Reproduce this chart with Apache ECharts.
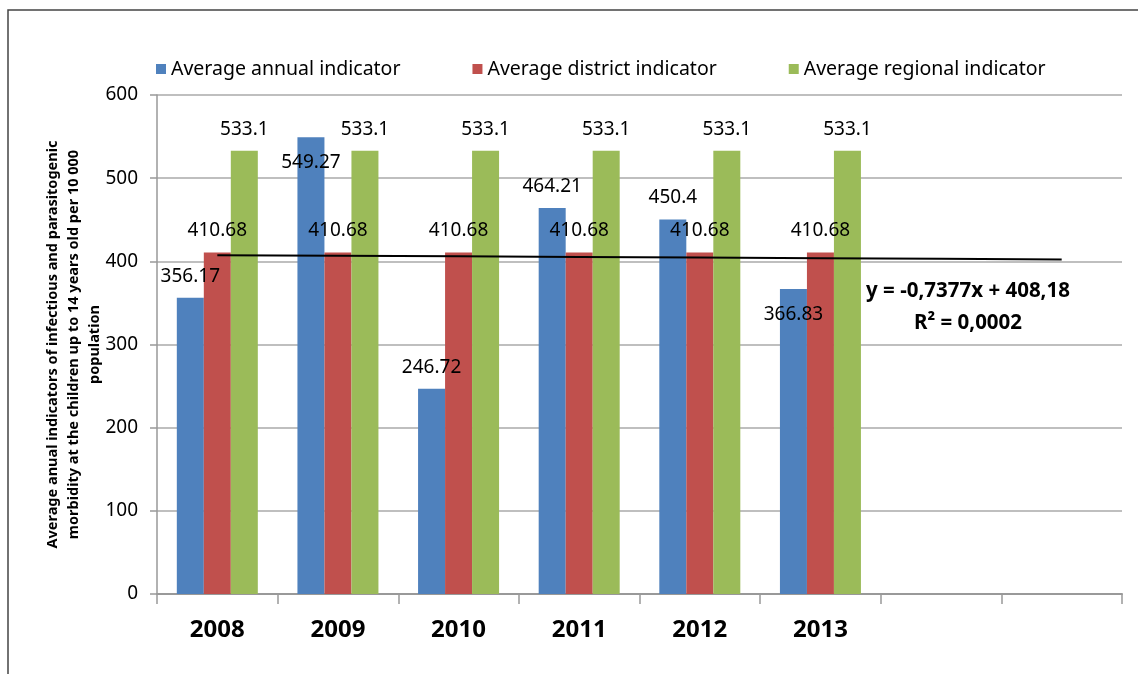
<!DOCTYPE html>
<html>
<head>
<meta charset="utf-8">
<script src="https://cdn.jsdelivr.net/npm/echarts@6/dist/echarts.min.js"></script>
<style>
  html, body { margin: 0; padding: 0; background: #fff; }
  #chart { width: 1138px; height: 674px; }
</style>
</head>
<body>
<div id="chart"></div>
<script>
const years = ["2008", "2009", "2010", "2011", "2012", "2013", "", ""];
const annual = [356.17, 549.27, 246.72, 464.21, 450.4, 366.83];
const district = [410.68, 410.68, 410.68, 410.68, 410.68, 410.68];
const regional = [533.1, 533.1, 533.1, 533.1, 533.1, 533.1];
// linear trend (y = -0,7377x + 408,18)
const trend = [407.44, 406.70, 405.97, 405.23, 404.49, 403.76, 403.02, 402.28];
const yTicks = { min: 0, max: 600, interval: 100 };

// where the annual labels sit (two of them are inside the bar top)
const annualLabelPos = ["top", "insideTop", "top", "top", "top", "insideTop"];

const font = "'Noto Sans', 'Open Sans', sans-serif";
const colors = ["#4F81BD", "#C0504D", "#9BBB59"];

const chart = echarts.init(document.getElementById("chart"));

const labelStyle = {
  show: true,
  position: "top",
  distance: 12,
  color: "#000",
  fontSize: 19,
  fontFamily: font,
};

chart.setOption({
  animation: false,
  textStyle: { fontFamily: font },
  grid: { left: 157, right: 16, top: 95, bottom: 80 },
  legend: {
    data: ["Average annual indicator", "Average district indicator", "Average regional indicator"],
    left: 151,
    top: 54,
    itemWidth: 10,
    itemHeight: 10,
    itemGap: 72,
    icon: "rect",
    textStyle: { fontSize: 19.5, color: "#000", fontFamily: font },
  },
  xAxis: {
    type: "category",
    data: years,
    axisLine: { lineStyle: { color: "#999", width: 2 } },
    axisTick: { show: true, length: 10, lineStyle: { color: "#999", width: 1.5 } },
    axisLabel: {
      color: "#000",
      fontSize: 24,
      fontWeight: "bold",
      fontFamily: font,
      margin: 24,
      interval: 0,
    },
  },
  yAxis: {
    type: "value",
    min: yTicks.min,
    max: yTicks.max,
    interval: yTicks.interval,
    name: "Average anual indicators of infectious and parasitogenic\nmorbidity at the children up to 14 years old per 10 000\npopulation",
    nameLocation: "middle",
    nameGap: 52,
    nameMoveOverlap: false,
    nameTextStyle: {
      fontSize: 14.5,
      fontWeight: "bold",
      color: "#000",
      lineHeight: 21,
      fontFamily: font,
    },
    axisLine: { show: true, lineStyle: { color: "#999", width: 1.5 } },
    axisTick: { show: true, length: 7, lineStyle: { color: "#999", width: 1.5 } },
    axisLabel: { color: "#000", fontSize: 19, margin: 19, fontFamily: font },
    splitLine: { lineStyle: { color: "#aaa", width: 1.5 } },
  },
  series: [
    {
      name: "Average annual indicator",
      type: "bar",
      barWidth: 27,
      barGap: "0%",
      itemStyle: { color: colors[0] },
      label: labelStyle,
      data: annual.map((v, i) =>
        annualLabelPos[i] === "insideTop"
          ? { value: v, label: { position: "insideTop", distance: 16 } }
          : v
      ),
    },
    {
      name: "Average district indicator",
      type: "bar",
      barWidth: 27,
      barGap: "0%",
      itemStyle: { color: colors[1] },
      label: labelStyle,
      data: district,
    },
    {
      name: "Average regional indicator",
      type: "bar",
      barWidth: 27,
      barGap: "0%",
      itemStyle: { color: colors[2] },
      label: labelStyle,
      data: regional,
    },
    {
      name: "trend",
      type: "line",
      data: trend,
      symbol: "none",
      z: 5,
      lineStyle: { color: "#000", width: 2 },
    },
  ],
  graphic: [
    {
      type: "rect",
      shape: { x: 8, y: 10, width: 1200, height: 720 },
      style: { fill: "none", stroke: "#444", lineWidth: 1.5 },
      silent: true,
    },
    {
      type: "text",
      x: 968,
      y: 275,
      style: {
        text: "y = -0,7377x + 408,18\nR² = 0,0002",
        align: "center",
        verticalAlign: "top",
        fontSize: 20.5,
        fontWeight: "bold",
        lineHeight: 32,
        fill: "#000",
        fontFamily: font,
      },
      z: 10,
    },
  ],
});
</script>
</body>
</html>
